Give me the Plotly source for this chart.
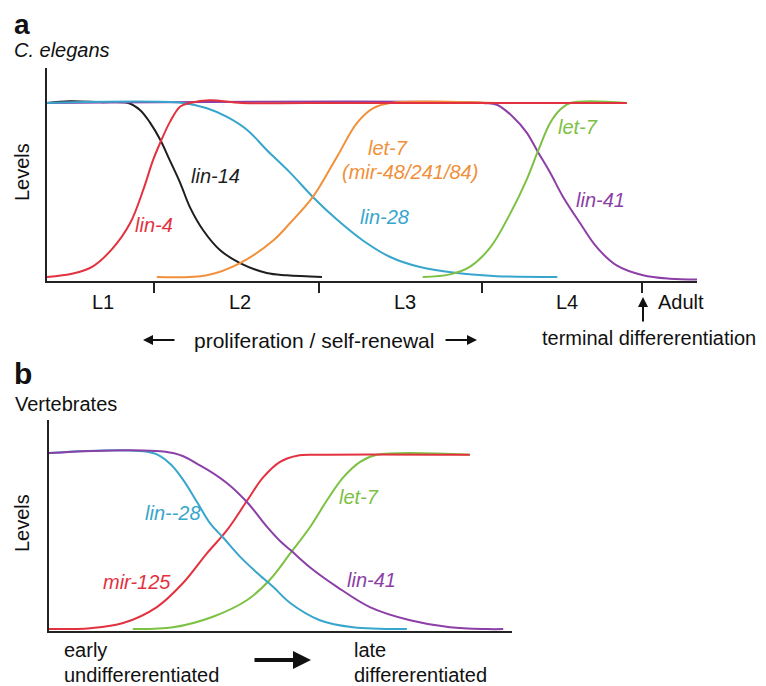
import plotly.graph_objects as go

W, H = 766, 686
OFF = 8  # default page margin around the plot div
FW, FH = W - OFF, H - OFF

# ---------------- Panel a: C. elegans (time 0-100, relative level 0-1) ----------------
a_lin4_x = [0, 4, 7, 10, 12.8, 14.8, 16.3, 17.4, 18.9, 20.5, 22, 25, 30, 40, 89.2]
a_lin4_y = [0, 0.02, 0.06, 0.16, 0.31, 0.5, 0.67, 0.77, 0.89, 0.98, 1.0, 1.015, 1.0, 1.0, 1.0]

a_lin14_x = [0, 3.5, 8.2, 12.5, 14.3, 15.8, 17.4, 18.9, 20.5, 22, 24, 26.6, 29.7, 33.8, 36.9, 42.3]
a_lin14_y = [1.0, 1.01, 1.005, 1.0, 0.96, 0.89, 0.79, 0.67, 0.54, 0.40, 0.27, 0.155, 0.08, 0.023, 0.01, 0.0]

a_lin28_x = [0, 20.9, 24.6, 27.7, 30.8, 33.8, 37.4, 40.9, 44.6, 48.6, 52.8, 57.4, 63.1, 69.2, 78.5]
a_lin28_y = [1.0, 1.0, 0.97, 0.92, 0.845, 0.73, 0.6, 0.46, 0.33, 0.21, 0.115, 0.057, 0.023, 0.005, 0.0]

a_let7o_x = [16.9, 24.6, 29.7, 34.8, 37.4, 40.9, 44.6, 47.7, 50.2, 52.8, 69.2]
a_let7o_y = [0.0, 0.01, 0.08, 0.21, 0.31, 0.46, 0.69, 0.885, 0.97, 1.0, 1.0]

a_lin41_x = [0, 67.1, 69.2, 71.7, 73.8, 75.5, 77.4, 79.4, 82, 84.6, 87.7, 91.7, 95.8, 100]
a_lin41_y = [1.0, 1.0, 0.99, 0.92, 0.83, 0.72, 0.60, 0.46, 0.31, 0.17, 0.065, 0.01, -0.01, -0.015]

a_let7g_x = [57.8, 62, 65.1, 68.2, 71.2, 73.8, 75.5, 77.4, 78.9, 80.5, 89.2]
a_let7g_y = [0.0, 0.015, 0.06, 0.17, 0.36, 0.56, 0.72, 0.885, 0.96, 1.0, 1.0]

stage_boundaries = [16.5, 41.8, 66.9, 91.5]
stage_labels = ["L1", "L2", "L3", "L4", "Adult"]

# ---------------- Panel b: Vertebrates ----------------
b_lin28_x = [0, 22.5, 26.1, 28.9, 32, 34.8, 37.6, 41.3, 44.9, 48.4, 52.1, 58.5, 65.7, 77.3]
b_lin28_y = [1.0, 1.0, 0.94, 0.85, 0.72, 0.60, 0.52, 0.41, 0.32, 0.24, 0.148, 0.05, 0.01, 0.0]

b_lin41_x = [0, 26.8, 32.6, 38.4, 42.8, 47.1, 49.9, 52.1, 56.4, 62.2, 69.3, 78, 86.6, 94.6, 98.1]
b_lin41_y = [1.0, 1.0, 0.93, 0.83, 0.72, 0.58, 0.50, 0.45, 0.35, 0.24, 0.125, 0.05, 0.01, 0.0, 0.0]

b_mir125_x = [0, 8.9, 16, 23.3, 28.9, 34.1, 38.4, 42.8, 46.2, 49.9, 53.6, 58.5, 90.9]
b_mir125_y = [0.0, 0.005, 0.034, 0.125, 0.26, 0.43, 0.56, 0.73, 0.86, 0.95, 0.985, 0.99, 0.99]

b_let7_x = [18.1, 26.8, 35.4, 42.8, 47.7, 52.1, 56.4, 60, 63.5, 67.2, 70.8, 90.9]
b_let7_y = [0.0, 0.01, 0.07, 0.165, 0.28, 0.43, 0.58, 0.73, 0.86, 0.95, 0.99, 0.99]

RED = "#e3323f"
BLACK = "#1e1e1e"
BLUE = "#38a6cc"
ORANGE = "#f0903a"
GREEN = "#7cc143"
PURPLE = "#8c3fa6"
AX = "#222222"
FONT = "Liberation Sans, Arial, sans-serif"

fig = go.Figure()


def add(x, y, color, xa, ya):
    fig.add_trace(go.Scatter(
        x=x, y=y, mode="lines",
        line=dict(color=color, width=2, shape="spline", smoothing=1.0),
        xaxis=xa, yaxis=ya, hoverinfo="skip", showlegend=False))


# panel a (draw order so the red line sits on top)
add(a_lin14_x, a_lin14_y, BLACK, "x", "y")
add(a_lin41_x, a_lin41_y, PURPLE, "x", "y")
add(a_lin28_x, a_lin28_y, BLUE, "x", "y")
add(a_let7o_x, a_let7o_y, ORANGE, "x", "y")
add(a_let7g_x, a_let7g_y, GREEN, "x", "y")
add(a_lin4_x, a_lin4_y, RED, "x", "y")

# panel b
add(b_let7_x, b_let7_y, GREEN, "x2", "y2")
add(b_mir125_x, b_mir125_y, RED, "x2", "y2")
add(b_lin28_x, b_lin28_y, BLUE, "x2", "y2")
add(b_lin41_x, b_lin41_y, PURPLE, "x2", "y2")


def px(x):
    return (x - OFF) / FW


def py(y):
    return 1 - (y - OFF) / FH


axis_common = dict(showline=True, linecolor=AX, linewidth=2, showgrid=False,
                   zeroline=False, fixedrange=True)

fig.update_layout(
    width=FW, height=FH,
    margin=dict(l=0, r=0, t=0, b=0),
    paper_bgcolor="white", plot_bgcolor="white",
    xaxis=dict(domain=[px(47), px(697)], range=[0, 100], anchor="y",
               tickvals=stage_boundaries, ticktext=[""] * len(stage_boundaries),
               ticks="outside", ticklen=10, tickwidth=2, tickcolor=AX,
               showticklabels=False, **axis_common),
    yaxis=dict(domain=[py(281), py(68)], range=[-0.023, 1.201], anchor="x",
               showticklabels=False, ticks="", **axis_common),
    xaxis2=dict(domain=[px(49), px(512)], range=[0, 100], anchor="y2",
                showticklabels=False, ticks="", **axis_common),
    yaxis2=dict(domain=[py(631), py(420)], range=[-0.011, 1.1875], anchor="x2",
                showticklabels=False, ticks="", **axis_common),
)


def ann(text, x, y, size=20, color="#111", xanchor="center", angle=0):
    fig.add_annotation(text=text, x=px(x), y=py(y), xref="paper", yref="paper",
                       xanchor=xanchor, yanchor="middle", showarrow=False,
                       textangle=angle, font=dict(family=FONT, size=size, color=color))


# panel headings
ann("<b>a</b>", 12, 24, size=28, xanchor="left")
ann("<i>C. elegans</i>", 12, 50, size=20, xanchor="left")
ann("Levels", 22, 172, size=20, angle=-90)
ann("<b>b</b>", 12, 374, size=30, xanchor="left")
ann("Vertebrates", 13, 404, size=20, xanchor="left")
ann("Levels", 22, 523, size=20, angle=-90)

# stage labels
for lab, cx in zip(stage_labels, [103, 240, 405, 567]):
    ann(lab, cx, 302, size=20)
ann(stage_labels[4], 656, 302, size=20, xanchor="left")

# curve labels, panel a
ann("<i>lin-14</i>", 215, 176, color=BLACK)
ann("<i>lin-4</i>", 154, 225, color=RED)
ann("<i>let-7</i>", 388, 148, color=ORANGE)
ann("<i>(mir-48/241/84)</i>", 410, 172, color=ORANGE)
ann("<i>lin-28</i>", 384, 217, color=BLUE)
ann("<i>let-7</i>", 578, 127, color=GREEN)
ann("<i>lin-41</i>", 600, 200, color=PURPLE)

# curve labels, panel b
ann("<i>lin--28</i>", 173, 513, color=BLUE)
ann("<i>mir-125</i>", 137, 582, color=RED)
ann("<i>let-7</i>", 359, 497, color=GREEN)
ann("<i>lin-41</i>", 371, 580, color=PURPLE)

# bottom texts
ann("proliferation / self-renewal", 314, 340, size=21)
ann("terminal differerentiation", 649, 338, size=20)
ann("early", 62, 650, size=20, xanchor="left")
ann("undiffererentiated", 62, 675, size=20, xanchor="left")
ann("late", 352, 650, size=20, xanchor="left")
ann("differerentiated", 352, 675, size=20, xanchor="left")


def arrow(hx, hy, tx, ty, width=2, size=1.0):
    fig.add_annotation(text="", x=px(hx), y=py(hy), xref="paper", yref="paper",
                       ax=tx - hx, ay=ty - hy, axref="pixel", ayref="pixel",
                       showarrow=True, arrowhead=2, arrowsize=size,
                       arrowwidth=width, arrowcolor="#111")


arrow(143, 340, 176, 340)
arrow(477, 340, 444, 340)
arrow(643, 297, 643, 323)
arrow(311, 660, 253, 660, width=4, size=0.9)

fig.write_html("out.html")
